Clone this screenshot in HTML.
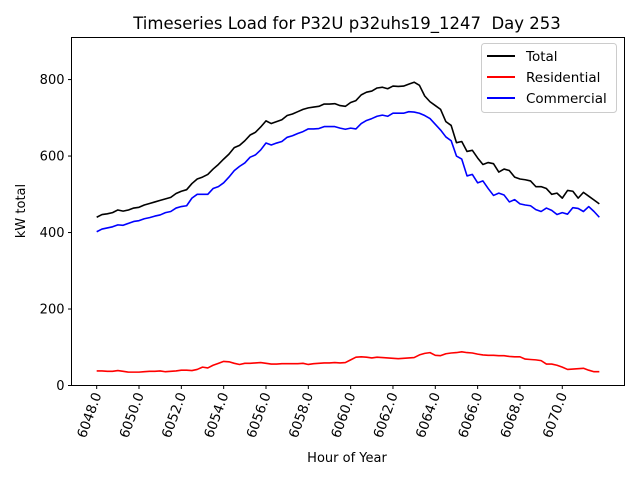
<!DOCTYPE html>
<html><head><meta charset="utf-8"><style>
body{margin:0;background:#fff;}
svg text{font-family:"DejaVu Sans","Liberation Sans",sans-serif;}
</style></head><body>
<svg id="chart" width="640" height="480" xmlns="http://www.w3.org/2000/svg">
<rect width="640" height="480" fill="#fff"/>
<text x="347" y="29" font-size="16.5" text-anchor="middle">Timeseries Load for P32U p32uhs19_1247&#160; Day 253</text>
<g id="plot"></g>
<rect x="71.5" y="37.5" width="553" height="348" fill="none" stroke="#000" stroke-width="1"/>
<text transform="translate(25,211) rotate(-90)" font-size="13" text-anchor="middle">kW total</text>
<text x="347" y="462" font-size="13" text-anchor="middle">Hour of Year</text>
<g>
<rect x="481.5" y="43.5" width="135" height="69" rx="3" fill="#fff" fill-opacity="0.8" stroke="#ccc"/>
<line x1="487" y1="56" x2="515" y2="56" stroke="#000" stroke-width="2"/>
<text x="526" y="61" font-size="13.5">Total</text>
<line x1="487" y1="77" x2="515" y2="77" stroke="red" stroke-width="2"/>
<text x="526" y="82" font-size="13.5">Residential</text>
<line x1="487" y1="98" x2="515" y2="98" stroke="blue" stroke-width="2"/>
<text x="526" y="103" font-size="13.5">Commercial</text>
</g>
</svg>
<script>
const startHour = 6048;
const stepHours = 0.25;
const yTicks = [0,200,400,600,800];
const xTicks = [6048,6050,6052,6054,6056,6058,6060,6062,6064,6066,6068,6070];
const totalValues = [440,447,449,452,459,456,459,464,466,472,476,480,484,488,492,502,508,512,528,540,545,552,566,578,592,605,622,628,640,655,662,676,692,685,690,695,706,710,716,722,726,728,730,736,736,737,732,730,740,745,760,767,770,778,780,776,783,782,783,788,793,785,757,742,732,722,690,680,635,638,612,615,595,578,583,580,558,566,562,545,540,538,535,520,520,515,500,503,490,510,508,490,505,495,485,475];
const residentialValues = [38,38,37,37,39,37,35,35,35,36,37,37,38,36,37,38,40,40,39,42,48,46,53,58,63,62,58,55,58,58,59,60,58,56,56,57,57,57,57,58,55,57,58,59,59,60,59,60,67,74,75,74,72,74,73,72,71,70,71,72,73,80,84,86,79,78,83,85,86,88,86,85,82,80,79,79,78,78,76,75,75,69,68,67,65,56,56,53,48,42,43,44,45,40,36,36];
const commercialValues = [402,409,412,415,420,419,424,429,431,436,439,443,446,452,455,464,468,470,490,500,500,500,515,520,530,545,562,573,582,597,603,616,634,629,634,638,649,653,659,664,671,671,672,677,677,677,673,670,673,671,685,693,698,704,707,704,712,712,712,716,715,712,706,698,683,668,650,640,600,592,548,552,530,535,515,497,503,498,480,486,475,472,470,460,455,464,458,447,452,448,465,463,455,468,455,440];

const L=71.5,R=624.5,T=37.5,B=385.5;
const xMin=6046.81,xMax=6072.94,yMin=0,yMax=910;
const xs=h=>L+(h-xMin)/(xMax-xMin)*(R-L);
const ys=v=>B-(v-yMin)/(yMax-yMin)*(B-T);
const NS="http://www.w3.org/2000/svg";
const g=document.getElementById('plot');
function mk(tag,attrs){const e=document.createElementNS(NS,tag);for(const k in attrs)e.setAttribute(k,attrs[k]);return e;}
yTicks.forEach(v=>{
  const y=ys(v);
  const t=mk('line',{x1:L-3.5,x2:L,y1:y,y2:y,stroke:'#000'});
  
  
  g.appendChild(t);
  const lb=mk('text',{x:L-7,y:y+4.5,'font-size':'13','text-anchor':'end'});
  
  
  lb.textContent=v;g.appendChild(lb);
});
xTicks.forEach(h=>{
  const x=xs(h);
  const t=mk('line',{x1:x,x2:x,y1:B,y2:B+3.5,stroke:'#000'});
  
  
  g.appendChild(t);
  const lb=mk('text',{transform:`translate(${x+5},${B+9}) rotate(-70)`,'font-size':'13.5','text-anchor':'end'});
  
  
  lb.textContent=h.toFixed(1);g.appendChild(lb);
});
function series(vals,color,name){
  const d=vals.map((v,i)=>(i?'L':'M')+xs(startHour+i*stepHours).toFixed(2)+','+ys(v).toFixed(2)).join('');
  const p=mk('path',{d:d,fill:'none',stroke:color,'stroke-width':'1.6','stroke-linejoin':'round'});
  
  
  g.appendChild(p);
}
series(totalValues,'#000','total-line');
series(residentialValues,'red','residential-line');
series(commercialValues,'blue','commercial-line');
</script>
</body></html>
